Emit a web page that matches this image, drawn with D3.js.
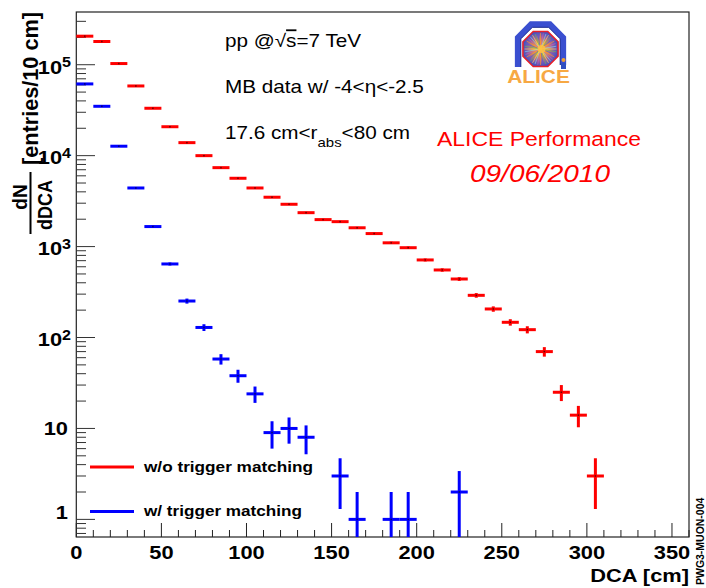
<!DOCTYPE html>
<html>
<head>
<meta charset="utf-8">
<script src="https://cdn.jsdelivr.net/npm/d3@7"></script>
<style>
  html, body { margin: 0; padding: 0; background: #fff; }
  svg { display: block; font-family: "Liberation Sans", Arial, Helvetica, sans-serif; }
</style>
</head>
<body>
<svg id="chart" width="706" height="588"></svg>
<script>
// ---------------- data ----------------
const redCenters = [5,15,25,35,45,55,65,75,85,95,105,115,125,135,145,155,165,175,185,195,205,215,225,235,245,255,265,275,285,295,305];
const redValues  = [206000,180000,103000,58400,33200,20800,13900,10000,7380,5640,4410,3490,2920,2360,1980,1880,1610,1390,1100,972,713,553,440,291,206,147,122,70,25,14,3];
const redErrors  = [454,424,321,242,182,144,118,100,86,75,66,59,54,49,44,43,40,37,33,31,27,24,21,17,14,12,11,8.4,5,3.7,1.7];

const blueCenters = [5,15,25,35,45,55,65,75,85,95,105,115,125,135,155,165,185,195,225];
const blueValues  = [61500,34900,12700,4410,1660,644,252,129,58,38,24,9,10,8,3,1,1,1,2];
const blueErrors  = [248,187,113,66,41,25,16,11,7.6,6.2,4.9,3,3.2,2.8,1.7,1,1,1,1.4];

const binHalfWidth = 5;
const xTickValues = [0,50,100,150,200,250,300,350];
const yMajorExps = [0,1,2,3,4,5];
const legendLabels = ["w/o trigger matching", "w/ trigger matching"];
const xTitle = "DCA [cm]";
const yTitleUnits = "[entries/10 cm]";
const stamp = "PWG3-MUON-004";

// ---------------- layout ----------------
const L = 76.3, R = 689, T = 12, B = 537;
const svg = d3.select("#chart");
const x = d3.scaleLinear().domain([0, 360]).range([L, R]);
const y = d3.scaleLog().domain([0.64, 3.8e5]).range([B, T]);

function txt(parent, px, py, s, o = {}) {
  const t = parent.append("text")
    .attr("transform", `translate(${px},${py}) scale(${o.sx ?? 1.15},1) rotate(${o.rot ?? 0})`)
    .attr("font-size", o.size ?? 18)
    .attr("font-weight", o.weight ?? "normal")
    .attr("text-anchor", o.anchor ?? "start")
    .attr("fill", o.fill ?? "#000");
  if (o.style) t.attr("font-style", o.style);
  if (o.len) t.attr("textLength", o.len).attr("lengthAdjust", "spacingAndGlyphs");
  if (s !== null) t.text(s);
  return t;
}

// ---------------- frame ----------------
svg.append("rect").attr("x", L).attr("y", T).attr("width", R - L).attr("height", B - T)
  .attr("fill", "none").attr("stroke", "#222").attr("stroke-width", 1.2);

// x ticks
const gx = svg.append("g").attr("stroke", "#222").attr("stroke-width", 1);
d3.range(0, 361, 10).forEach(v => {
  const major = v % 50 === 0;
  gx.append("line").attr("x1", x(v)).attr("x2", x(v)).attr("y1", B).attr("y2", B - (major ? 14 : 7));
});
xTickValues.forEach(v => txt(svg, x(v), 559, String(v), {size: 19, weight: "bold", anchor: "middle"}));

// y ticks
const gy = svg.append("g").attr("stroke", "#333").attr("stroke-width", 1);
for (let e = -1; e <= 5; e++) {
  for (let m = 1; m <= 9; m++) {
    const v = m * Math.pow(10, e);
    if (v < 0.64 || v > 3.8e5) continue;
    gy.append("line").attr("x1", L).attr("x2", L + (m === 1 ? 18.7 : 9.7))
      .attr("y1", y(v)).attr("y2", y(v));
  }
}
yMajorExps.forEach(e => {
  const yy = y(Math.pow(10, e));
  if (e === 0) { txt(svg, 68, yy - 0.8, "1", {size: 19, weight: "bold", anchor: "end"}); return; }
  if (e === 1) { txt(svg, 68, yy + 6.7, "10", {size: 19, weight: "bold", anchor: "end"}); return; }
  const t = txt(svg, 71, yy + 8.8, null, {size: 19, weight: "bold", anchor: "end"});
  t.append("tspan").text("10");
  t.append("tspan").attr("font-size", 14).attr("dy", -6.5).text(String(e));
});

// axis titles
txt(svg, R, 582, xTitle, {size: 19, weight: "bold", anchor: "end"});
txt(svg, 38, 88.5, yTitleUnits, {size: 21.5, weight: "bold", anchor: "middle", rot: -90, sx: 1, len: 153});
txt(svg, 27, 197, "dN", {size: 19, weight: "bold", anchor: "middle", rot: -90, sx: 1.1});
txt(svg, 51.5, 205, "dDCA", {size: 18, weight: "bold", anchor: "middle", rot: -90, sx: 1.1});
svg.append("line").attr("x1", 30.5).attr("x2", 30.5).attr("y1", 172).attr("y2", 234)
  .attr("stroke", "#000").attr("stroke-width", 2);

// ---------------- data points ----------------
function drawSeries(centers, values, errors, color) {
  const g = svg.append("g").attr("stroke", color).attr("stroke-width", 3);
  centers.forEach((c, i) => {
    const v = values[i], e = errors[i];
    const lo = Math.max(v - e, 0.64), hi = Math.min(v + e, 3.8e5);
    g.append("line").attr("x1", x(c - binHalfWidth)).attr("x2", x(c + binHalfWidth))
      .attr("y1", y(v)).attr("y2", y(v));
    g.append("line").attr("x1", x(c)).attr("x2", x(c))
      .attr("y1", y(lo)).attr("y2", y(hi));
    svg.append("rect").attr("x", x(c) - 0.75).attr("y", y(v) - 0.75)
      .attr("width", 1.5).attr("height", 1.5).attr("fill", "#000").attr("opacity", 0.6);
  });
}
drawSeries(redCenters, redValues, redErrors, "#ff0000");
drawSeries(blueCenters, blueValues, blueErrors, "#0000ff");

// ---------------- legend ----------------
[["#ff0000", 467, 471.5], ["#0000ff", 511.5, 516]].forEach((d, i) => {
  svg.append("line").attr("x1", 90).attr("x2", 134).attr("y1", d[1]).attr("y2", d[1])
    .attr("stroke", d[0]).attr("stroke-width", 3);
  txt(svg, 144, d[2], legendLabels[i], {size: 15.5, weight: "bold", sx: 1, len: i === 0 ? 169 : 158});
});

// ---------------- annotations ----------------
const t1 = txt(svg, 225, 47, null, {size: 18});
t1.append("tspan").text("pp @√");
t1.append("tspan").attr("text-decoration", "overline").style("text-decoration", "overline").text("s");
t1.append("tspan").text("=7 TeV");
txt(svg, 225, 93, "MB data w/ -4<η<-2.5", {size: 18});
const t3 = txt(svg, 225, 139, null, {size: 18});
t3.append("tspan").text("17.6 cm<r");
t3.append("tspan").attr("font-size", 13).attr("dy", 7.5).text("abs");
t3.append("tspan").attr("dy", -7.5).text("<80 cm");

txt(svg, 437, 146, "ALICE Performance", {size: 20.5, fill: "#ff0000", sx: 1, len: 204});
txt(svg, 470, 182, "09/06/2010", {size: 23, fill: "#ff0000", style: "italic", sx: 1, len: 140});

// stamp
txt(svg, 704, 585, stamp, {size: 10.5, weight: "bold", rot: -90, sx: 1.1});

// ---------------- ALICE logo ----------------
const logo = svg.append("g");
const defs = svg.append("defs");
const rg = defs.append("radialGradient").attr("id", "burst");
[["0%", "#ffe040"], ["35%", "#f6a030"], ["70%", "#9a60a0"], ["100%", "#4050c0"]].forEach(s =>
  rg.append("stop").attr("offset", s[0]).attr("stop-color", s[1]));
const cx = 540.5, cy = 48;
function octPts(r, ccx, ccy) {
  return d3.range(8).map(k => {
    const a = (22.5 + 45 * k) * Math.PI / 180;
    return [ccx + r * Math.cos(a), ccy + r * Math.sin(a)];
  });
}
// open band (bottom open)
const ob = octPts(24.5, cx, cy - 1);
const bandPts = [[ob[3][0], 67], ob[3], ob[4], ob[5], ob[6], ob[7], ob[0], [ob[0][0], 65]];
logo.append("path").attr("d", d3.line()(bandPts)).attr("fill", "none")
  .attr("stroke", "#3a4fd0").attr("stroke-width", 6).attr("stroke-linejoin", "miter");
const ib = octPts(21.3, cx, cy - 1);
logo.append("path").attr("d", d3.line()([[ib[3][0], 67], ib[3], ib[4], ib[5], ib[6], ib[7], ib[0], [ib[0][0], 65]]))
  .attr("fill", "none").attr("stroke", "#1a2a90").attr("stroke-width", 1);
logo.append("polygon").attr("points", octPts(19, cx, cy + 1).map(p => p.join(",")).join(" "))
  .attr("fill", "url(#burst)").attr("stroke", "#e8202a").attr("stroke-width", 1.6);
const rayColors = ["#ffe060", "#60c060", "#4060e0", "#ff9030", "#c060c0", "#80d0ff"];
d3.range(36).forEach(k => {
  const a = k * 10 * Math.PI / 180;
  logo.append("line").attr("x1", cx + 2 * Math.cos(a)).attr("y1", cy + 1 + 2 * Math.sin(a))
    .attr("x2", cx + 16 * Math.cos(a)).attr("y2", cy + 1 + 16 * Math.sin(a))
    .attr("stroke", rayColors[k % rayColors.length]).attr("stroke-width", 0.8).attr("opacity", 0.8);
});
logo.append("circle").attr("cx", cx + 1).attr("cy", cy + 1).attr("r", 4).attr("fill", "#ffc040").attr("opacity", 0.9);
logo.append("rect").attr("x", 561).attr("y", 63).attr("width", 5).attr("height", 6).attr("fill", "#3050c0");
logo.append("circle").attr("cx", 563.5).attr("cy", 60).attr("r", 2).attr("fill", "#f0a030");
txt(logo, 538.5, 83, "ALICE", {size: 19, weight: "bold", anchor: "middle", fill: "#f7a843", sx: 1.1});
</script>
</body>
</html>
